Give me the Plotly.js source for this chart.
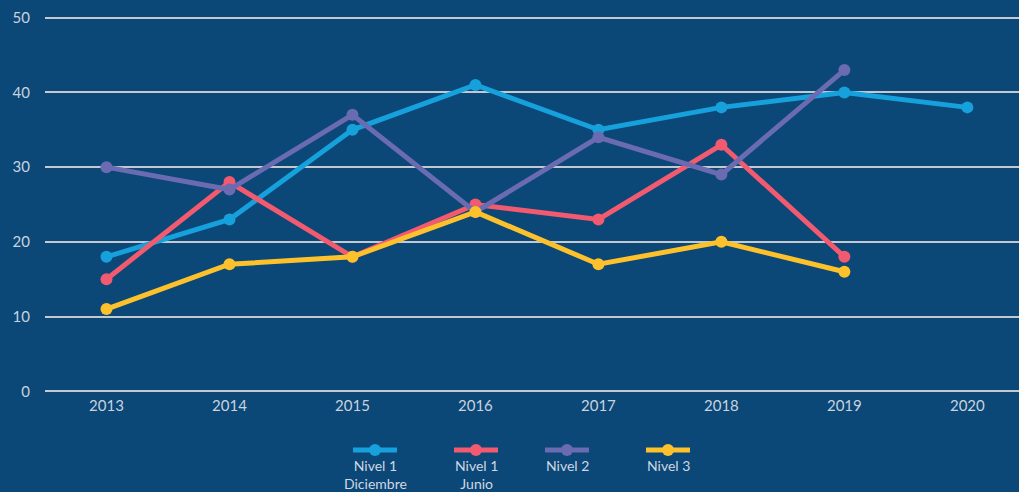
<!DOCTYPE html>
<html>
<head>
<meta charset="utf-8">
<script src="https://cdn.plot.ly/plotly-3.0.1.min.js"></script>
<style>html,body{margin:0;padding:0;background:#0b4777;}#chart{width:1019px;height:492px;}</style>
</head>
<body>
<div id="chart"></div>
<script>
const years = ["2013","2014","2015","2016","2017","2018","2019","2020"];
const nivel1Diciembre = [18, 23, 35, 41, 35, 38, 40, 38];
const nivel1Junio = [15, 28, 18, 25, 23, 33, 18];
const nivel2 = [30, 27, 37, 24, 34, 29, 43];
const nivel3 = [11, 17, 18, 24, 17, 20, 16];
const seriesNames = ["Nivel 1<br>Diciembre", "Nivel 1<br>Junio", "Nivel 2", "Nivel 3"];
const yTicks = [0, 10, 20, 30, 40, 50];

const colors = ["#16a0dc", "#f15a6f", "#6a6bb1", "#fdc12b"];
const seriesData = [nivel1Diciembre, nivel1Junio, nivel2, nivel3];

const traces = seriesData.map((vals, i) => ({
  x: years.slice(0, vals.length),
  y: vals,
  type: "scatter",
  mode: "lines+markers",
  name: seriesNames[i].replace("<br>", " "),
  line: {color: colors[i], width: 5},
  marker: {color: colors[i], size: 12},
  showlegend: false,
  hoverinfo: "x+y+name"
}));

const W = 1019, H = 492;
const mL = 45, mT = 14, mB = 97;
const plotW = W - mL, plotH = H - mT - mB;
function paperX(px) { return (px - mL) / plotW; }
function paperY(py) { return (H - mB - py) / plotH; }

// custom legend: symbol above, text below
const legendCenters = [375, 476, 567, 668];
const shapes = [];
const annotations = [];
legendCenters.forEach((cx, i) => {
  shapes.push({type: "line", xref: "paper", yref: "paper",
    x0: paperX(cx - 22), x1: paperX(cx + 22),
    y0: paperY(450), y1: paperY(450),
    line: {color: colors[i], width: 5}});
  shapes.push({type: "circle", xref: "paper", yref: "paper",
    x0: paperX(cx - 6), x1: paperX(cx + 6),
    y0: paperY(456), y1: paperY(444),
    fillcolor: colors[i], line: {width: 0}});
  annotations.push({xref: "paper", yref: "paper",
    x: paperX(cx), y: paperY(455), xanchor: "center", yanchor: "top",
    text: seriesNames[i], showarrow: false,
    font: {family: "Lato, 'Open Sans', sans-serif", size: 14, color: "#cfd8e3"},
    align: "center"});
});

const layout = {
  width: W, height: H,
  paper_bgcolor: "#0b4777",
  plot_bgcolor: "#0b4777",
  margin: {l: mL, r: 0, t: mT, b: mB},
  font: {family: "Lato, 'Open Sans', sans-serif", size: 15, color: "#c9d3df"},
  xaxis: {
    type: "category",
    categoryorder: "array",
    categoryarray: years,
    range: [-0.5, 7.42],
    showgrid: false, zeroline: false, showline: false,
    ticks: "", tickfont: {size: 15, color: "#c9d3df"},
    fixedrange: true
  },
  yaxis: {
    range: [-0.5, 50.5],
    tickvals: yTicks,
    ticktext: yTicks.map(String),
    showgrid: true, gridcolor: "#c4c9cf", gridwidth: 2,
    zeroline: false, showline: false,
    ticks: "", ticklabelstandoff: 14,
    tickfont: {size: 15, color: "#c9d3df"},
    fixedrange: true
  },
  shapes: shapes,
  annotations: annotations,
  showlegend: false
};

Plotly.newPlot("chart", traces, layout, {displayModeBar: false, staticPlot: true});
</script>
</body>
</html>
